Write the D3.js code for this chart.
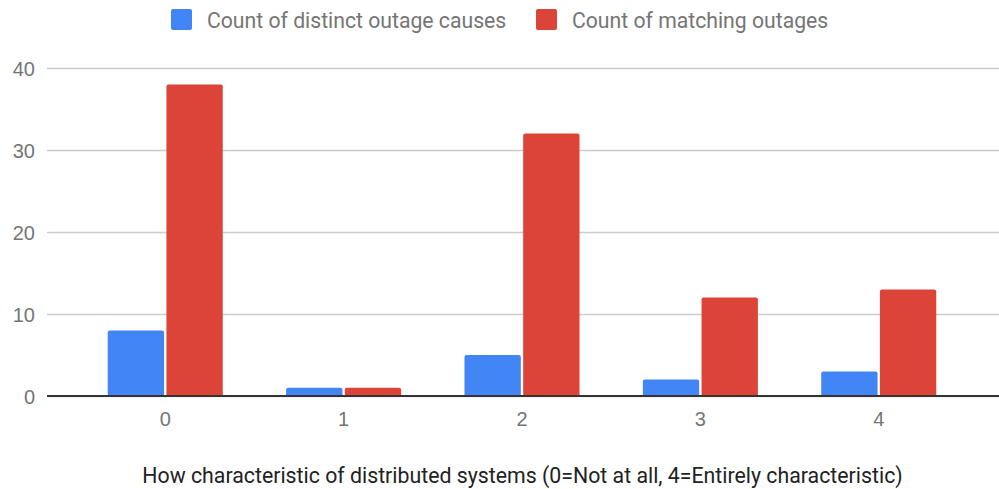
<!DOCTYPE html>
<html><head><meta charset="utf-8">
<script src="https://cdn.jsdelivr.net/npm/d3@7"></script>
<style>body{margin:0;background:#fff}svg{display:block;font-family:Roboto,sans-serif}</style>
</head><body><svg id="c" width="999" height="489"></svg>
<script>
const categories = ["0","1","2","3","4"];
const seriesNames = ["Count of distinct outage causes","Count of matching outages"];
const distinctCauses = [8,1,5,2,3];
const matchingOutages = [38,1,32,12,13];
const yTicks = [0,10,20,30,40];
const colors = ["#4285f4","#db4437"];
const xTitle = "How characteristic of distributed systems (0=Not at all, 4=Entirely characteristic)";

(function(){
const svg = d3.select("#c");
const pl = 47, pr = 999, pt = 68, pb = 396;
const x = d3.scaleBand().domain(categories).range([47, 997]).paddingOuter(0.163).paddingInner(0);
const y = d3.scaleLinear().domain([0,40]).range([pb, pt]);
const inner = d3.scaleBand().domain([0,1]).range([0, x.bandwidth()*0.645]).paddingInner(0.04);
const gOff = (x.bandwidth() - x.bandwidth()*0.645)/2;

const yAxis = d3.axisLeft(y).tickValues(yTicks).tickSize(-(pr-pl)).tickPadding(12);
const ga = svg.append("g").attr("transform",`translate(${pl},0)`).call(yAxis);
ga.select(".domain").remove();
ga.selectAll(".tick line").attr("stroke","#cccccc").attr("stroke-width",1.5);
ga.selectAll(".tick text").attr("fill","#757575").style("font-size","20px").attr("x",-12).attr("dy","0.38em");

const data = categories.map((c,i)=>({c, v:[distinctCauses[i], matchingOutages[i]]}));
const groups = svg.append("g").selectAll("g").data(data).join("g")
  .attr("transform", d=>`translate(${x(d.c)+gOff},0)`);
groups.selectAll("path").data(d=>d.v.map((v,k)=>({v,k}))).join("path")
  .attr("fill", d=>colors[d.k])
  .attr("d", d=>{
    const x0 = inner(d.k), w = inner.bandwidth(), y0 = y(d.v), r = 2;
    return `M${x0},${pb}V${y0+r}Q${x0},${y0} ${x0+r},${y0}H${x0+w-r}Q${x0+w},${y0} ${x0+w},${y0+r}V${pb}Z`;
  });

const xAxis = d3.axisBottom(x).tickSize(0).tickPadding(16);
const gx = svg.append("g").attr("transform",`translate(0,${pb})`).call(xAxis);
gx.select(".domain").remove();
gx.selectAll(".tick text").attr("fill","#757575").style("font-size","20px");
svg.append("line").attr("x1",pl).attr("x2",pr).attr("y1",y(0)).attr("y2",y(0)).attr("stroke","#333").attr("stroke-width",2);

svg.append("text").attr("x",522.5).attr("y",483).attr("text-anchor","middle")
  .attr("fill","#222").style("font-size","21.3px").text(xTitle);

const leg = [{x:171,t:seriesNames[0],c:colors[0]},{x:536,t:seriesNames[1],c:colors[1]}];
leg.forEach(l=>{
  svg.append("rect").attr("x",l.x).attr("y",9).attr("width",21).attr("height",21).attr("rx",2).attr("fill",l.c);
  svg.append("text").attr("x",l.x+36).attr("y",28).attr("fill","#757575").style("font-size","21.2px").text(l.t);
});
})();
</script></body></html>
